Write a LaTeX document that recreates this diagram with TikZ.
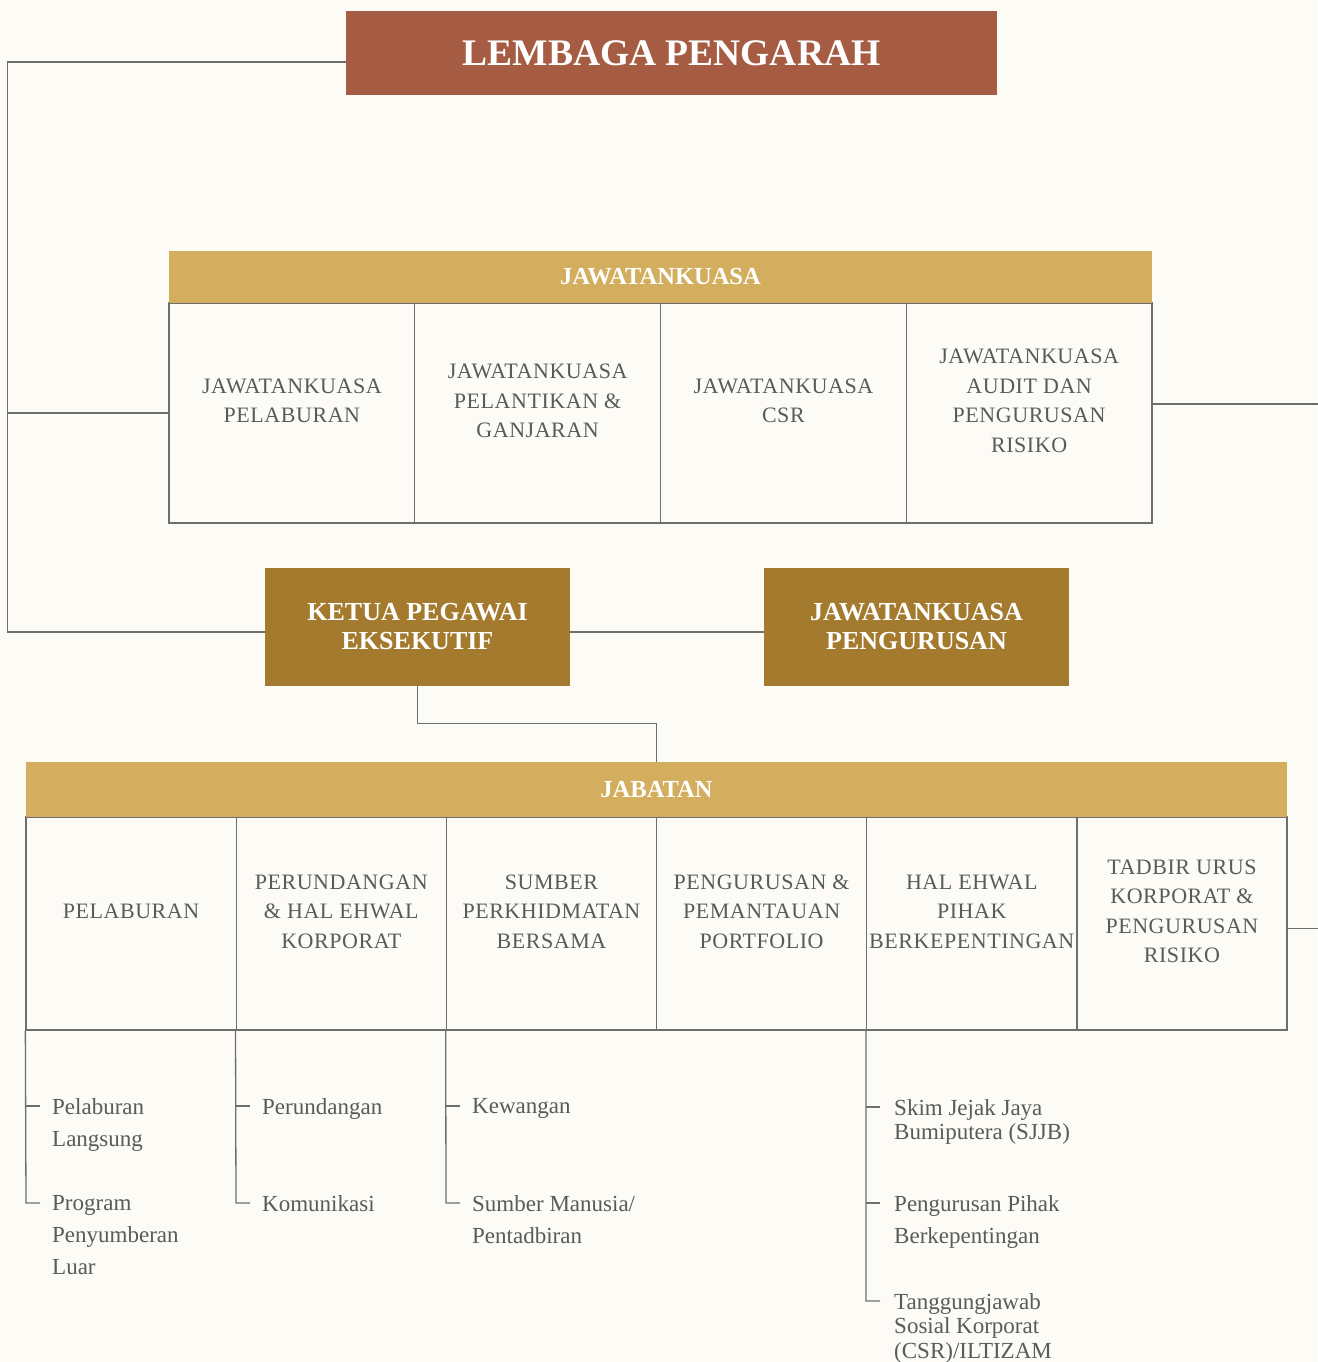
\documentclass[tikz,border=0pt]{standalone}
\usepackage{fontspec}
\setmainfont{Liberation Serif}
\usetikzlibrary{positioning}
\definecolor{paper}{HTML}{FCFBF6}
\definecolor{boardred}{HTML}{A65C42}
\definecolor{bandgold}{HTML}{D2AE5E}
\definecolor{execbrown}{HTML}{A47B2E}
\definecolor{linegray}{HTML}{6E6E6E}
\definecolor{textgray}{HTML}{5A5A5A}
\begin{document}
\begin{tikzpicture}[x=1pt, y=-1pt,
   box/.style={inner sep=0pt, align=center, text=white},
   board/.style={box, fill=boardred, minimum width=651pt, minimum height=84pt,
      font=\bfseries\fontsize{37.5}{40}\selectfont},
   band/.style={box, fill=bandgold, font=\bfseries\fontsize{24.5}{27}\selectfont},
   exec/.style={box, fill=execbrown, minimum width=305pt, minimum height=118pt,
      font=\bfseries\fontsize{26}{29}\selectfont},
   cell/.style={draw=linegray, line width=1.3pt, inner sep=0pt},
   ctext/.style={align=center, text=textgray, inner sep=0pt,
      font=\fontsize{22}{29.5}\selectfont\addfontfeature{LetterSpace=2.5}},
   item/.style={align=left, text=textgray, inner sep=0pt, anchor=north west,
      font=\fontsize{23}{32}\selectfont},
   tight/.style={item, font=\fontsize{23}{24.5}\selectfont},
   link/.style={draw=linegray, line width=1.3pt}]
\fill[paper] (0,0) rectangle (1317,1362);
\useasboundingbox (0,0) rectangle (1317,1362);

\node[board] (board) at (671.5,53) {LEMBAGA PENGARAH};

\foreach \i/\txt in {1/{JAWATANKUASA\\PELABURAN}, 2/{JAWATANKUASA\\PELANTIKAN \&\\GANJARAN},
   3/{JAWATANKUASA\\CSR}, 4/{JAWATANKUASA\\AUDIT DAN\\PENGURUSAN\\RISIKO}} {
  \node[cell, minimum width=245.75pt, minimum height=220pt] (jk\i) at ({169+245.75*(\i-0.5)},413) {};
  \node[ctext] (jkt\i) at ([yshift=12pt]jk\i.center) {\txt};
}
\node[band, minimum width=983pt, minimum height=52pt] (jkband) at (660.5,277) {JAWATANKUASA};

\node[exec] (ceo) at (417.5,627) {KETUA PEGAWAI\\EKSEKUTIF};
\node[exec] (jkp) at (916.5,627) {JAWATANKUASA\\PENGURUSAN};

\foreach \i/\txt in {1/PELABURAN, 2/{PERUNDANGAN\\\& HAL EHWAL\\KORPORAT}, 3/{SUMBER\\PERKHIDMATAN\\BERSAMA},
   4/{PENGURUSAN \&\\PEMANTAUAN\\PORTFOLIO}, 5/{HAL EHWAL\\PIHAK\\BERKEPENTINGAN},
   6/{TADBIR URUS\\KORPORAT \&\\PENGURUSAN\\RISIKO}} {
  \node[cell, minimum width=210.17pt, minimum height=213pt] (jb\i) at ({26+210.17*(\i-0.5)},923.5) {};
  \node[ctext] (jbt\i) at ([yshift=12pt]jb\i.center) {\txt};
}
\node[band, minimum width=1261pt, minimum height=55pt] (jbband) at (656.5,789.5) {JABATAN};

\draw[link] ([yshift=-9pt]board.west) -- ++(-338,0) |- ([yshift=-5pt]ceo.west);
\draw[link] (jk1.west) -- ++(-161,0);
\draw[link] ([yshift=9pt]jk4.east) -- ++(165,0);
\draw[link] ([yshift=-5pt]ceo.east) -- ([yshift=-5pt]jkp.west);
\draw[link] (ceo.south) -- ++(0,37) -| (jbband.north);
\draw[link] ([yshift=-5pt]jb6.east) -- ++(30,0);

\coordinate (r11) at (26,1106);  \coordinate (r12) at (26,1203);
\coordinate (r21) at (236,1106); \coordinate (r22) at (236,1203);
\coordinate (r31) at (446,1106); \coordinate (r32) at (446,1203);
\coordinate (r51) at (866,1107); \coordinate (r52) at (866,1203); \coordinate (r53) at (866,1301);
\draw[link] (jb1.south west) -- (r12) -- ++(14,0); \draw[link] (r11) -- ++(14,0);
\draw[link] (jb2.south west) -- (r22) -- ++(14,0); \draw[link] (r21) -- ++(14,0);
\draw[link] (jb3.south west) -- (r32) -- ++(14,0); \draw[link] (r31) -- ++(14,0);
\draw[link] (jb5.south west) -- (r53) -- ++(14,0); \draw[link] (r51) -- ++(14,0);
\draw[link] (r52) -- ++(14,0);

\node[item] (i11) at ([xshift=26pt,yshift=8pt]r11) {Pelaburan\\Langsung};
\node[item] (i12) at ([xshift=26pt,yshift=8pt]r12) {Program\\Penyumberan\\Luar};
\node[item] (i21) at ([xshift=26pt,yshift=8pt]r21) {Perundangan};
\node[item] (i22) at ([xshift=26pt,yshift=8pt]r22) {Komunikasi};
\node[item] (i31) at ([xshift=26pt,yshift=8pt]r31) {Kewangan};
\node[item] (i32) at ([xshift=26pt,yshift=8pt]r32) {Sumber Manusia/\\Pentadbiran};
\node[tight] (i51) at ([xshift=28pt,yshift=8pt]r51) {Skim Jejak Jaya\\Bumiputera (SJJB)};
\node[item] (i52) at ([xshift=28pt,yshift=8pt]r52) {Pengurusan Pihak\\Berkepentingan};
\node[tight] (i53) at ([xshift=28pt,yshift=8pt]r53) {Tanggungjawab\\Sosial Korporat\\(CSR)/ILTIZAM};
\end{tikzpicture}
\end{document}
